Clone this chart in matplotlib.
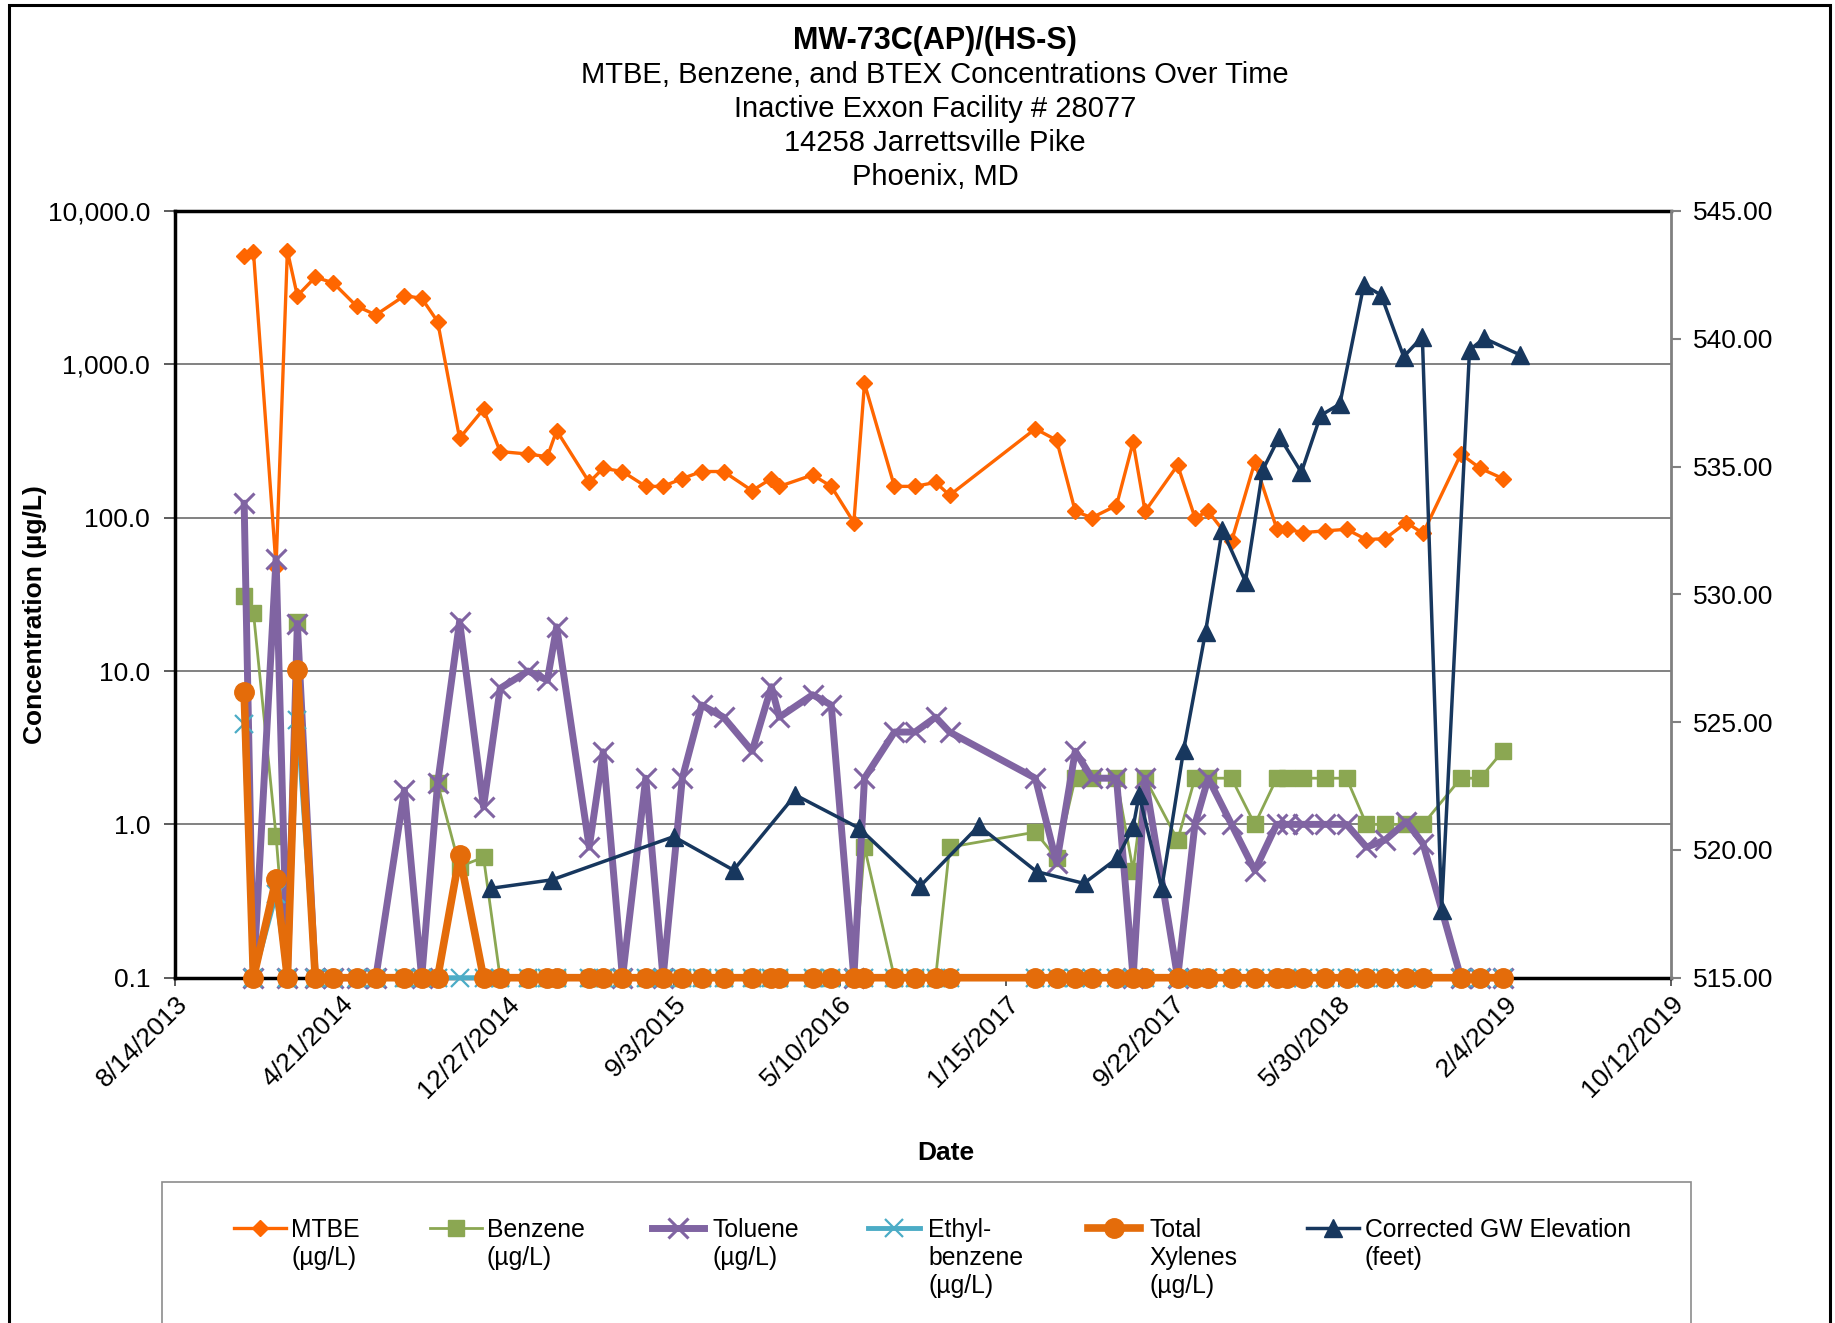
import matplotlib
matplotlib.use("Agg")
import matplotlib.pyplot as plt
import matplotlib.dates as mdates
from matplotlib.lines import Line2D
from matplotlib.patches import Rectangle
from matplotlib.ticker import FixedLocator, FuncFormatter, NullLocator
import datetime as dt

plt.rcParams['font.family'] = ['Liberation Sans', 'DejaVu Sans']

# ---------------- data ----------------
sample_dates = [
    "2013-11-26", "2013-12-10", "2014-01-13", "2014-01-30", "2014-02-14", "2014-03-13",
    "2014-04-09", "2014-05-14", "2014-06-12", "2014-07-25", "2014-08-20", "2014-09-13",
    "2014-10-16", "2014-11-21", "2014-12-16", "2015-01-27", "2015-02-25", "2015-03-11",
    "2015-04-29", "2015-05-20", "2015-06-18", "2015-07-23", "2015-08-18", "2015-09-16",
    "2015-10-15", "2015-11-17", "2015-12-30", "2016-01-28", "2016-02-09", "2016-03-30",
    "2016-04-27", "2016-05-31", "2016-06-16", "2016-07-31", "2016-08-31", "2016-10-01",
    "2016-10-22", "2017-02-28", "2017-04-01", "2017-04-29", "2017-05-24", "2017-06-30",
    "2017-07-25", "2017-08-12", "2017-09-30", "2017-10-26", "2017-11-15", "2017-12-20",
    "2018-01-24", "2018-02-26", "2018-03-13", "2018-04-07", "2018-05-10", "2018-06-11",
    "2018-07-11", "2018-08-08", "2018-09-09", "2018-10-04", "2018-11-30", "2018-12-29",
    "2019-02-01"]

mtbe = [5100, 5400, 48, 5500, 2800, 3700, 3400, 2400, 2100, 2800, 2700, 1900,
        330, 510, 270, 260, 250, 370,
        170, 210, 200, 160, 160, 180, 200, 200, 150, 180, 160, 190, 160,
        93, 750, 160, 160, 170, 140,
        380, 320, 110, 100, 120, 310, 110, 220, 100, 110, 70,
        230, 85, 84, 80, 82, 84, 72, 73, 93, 79, 260, 210, 180]

benzene = [31, 24, 0.84, 0.1, 21, 0.1, 0.1, 0.1, 0.1, 0.1, 0.1, 1.85,
           0.53, 0.61, 0.1, 0.1, 0.1, 0.1,
           0.1, 0.1, 0.1, 0.1, 0.1, 0.1, 0.1, 0.1, 0.1, 0.1, 0.1, 0.1, 0.1,
           0.1, 0.71, 0.1, 0.1, 0.1, 0.71,
           0.89, 0.6, 2, 2, 2, 0.5, 2, 0.79, 2, 2, 2,
           1, 2, 2, 2, 2, 2, 1, 1, 1, 1, 2, 2, 3]

toluene = [124, 0.1, 54, 0.1, 20.4, 0.1, 0.1, 0.1, 0.1, 1.67, 0.1, 1.85,
           21, 1.3, 7.7, 10, 8.7, 19.4,
           0.71, 2.97, 0.1, 2.0, 0.1, 2.0, 6.0, 5.0, 3.0, 7.9, 5.0, 7.0, 6.0,
           0.1, 2.0, 4.0, 4.0, 5.0, 4.0,
           2.0, 0.56, 3.0, 2, 2, 0.1, 2, 0.1, 1.0, 2, 1,
           0.5, 1, 1, 1, 1, 1, 0.71, 0.79, 1.04, 0.75, 0.1, 0.1, 0.1]

ethylbenzene = [4.5, 0.1, 0.35, 0.1, 4.8] + [0.1] * 56

xylenes = [7.3, 0.1, 0.44, 0.1, 10.1, 0.1, 0.1, 0.1, 0.1, 0.1, 0.1, 0.1,
           0.63] + [0.1] * 48

gw_dates = [
    "2014-12-03", "2015-03-04", "2015-09-03", "2015-12-02", "2016-03-04", "2016-06-08",
    "2016-09-08", "2016-12-05", "2017-03-02", "2017-05-12", "2017-07-01", "2017-07-25",
    "2017-08-03", "2017-09-06", "2017-10-09", "2017-11-11", "2017-12-06", "2018-01-10",
    "2018-02-05", "2018-03-02", "2018-04-04", "2018-05-03", "2018-06-01", "2018-07-07",
    "2018-08-02", "2018-09-05", "2018-10-03", "2018-11-01", "2018-12-13", "2019-01-04",
    "2019-02-27"]
gw_elev = [518.50, 518.83, 520.52, 519.21, 522.15, 520.85, 518.59, 520.94, 519.15,
           518.69, 519.67, 520.89, 522.15, 518.50, 523.91, 528.54, 532.52, 530.50,
           534.87, 536.17, 534.77, 537.00, 537.45, 542.11, 541.71, 539.30, 540.08,
           517.65, 539.56, 540.02, 539.37]

x_tick_dates = ["2013-08-14", "2014-04-21", "2014-12-27", "2015-09-03", "2016-05-10",
                "2017-01-15", "2017-09-22", "2018-05-30", "2019-02-04", "2019-10-12"]
y_ticks = [0.1, 1, 10, 100, 1000, 10000]
y2_ticks = [515, 520, 525, 530, 535, 540, 545]

title_lines = ["MW-73C(AP)/(HS-S)",
               "MTBE, Benzene, and BTEX Concentrations Over Time",
               "Inactive Exxon Facility # 28077",
               "14258 Jarrettsville Pike",
               "Phoenix, MD"]

legend_labels = ["MTBE\n(\u00b5g/L)", "Benzene\n(\u00b5g/L)", "Toluene\n(\u00b5g/L)",
                 "Ethyl-\nbenzene\n(\u00b5g/L)", "Total\nXylenes\n(\u00b5g/L)",
                 "Corrected GW Elevation\n(feet)"]

# ---------------- layout ----------------
W, H = 1835, 1323
fig = plt.figure(figsize=(W / 100, H / 100), dpi=100)


def fx(px):
    return px / W


def fy(py):
    return 1 - py / H


ax_l, ax_r, ax_t, ax_b = 175, 1671, 211, 977.7
ax = fig.add_axes([fx(ax_l), fy(ax_b), (ax_r - ax_l) / W, (ax_b - ax_t) / H])

to_d = lambda s: dt.datetime.strptime(s, "%Y-%m-%d")
sd = [to_d(s) for s in sample_dates]
gd = [to_d(s) for s in gw_dates]
xt = [to_d(s) for s in x_tick_dates]

FS = 19
LFS = 17.8

series_style = [
    dict(data=mtbe, color='#FF6600', lw=2.4, marker='D', ms=8.5, mew=1),
    dict(data=benzene, color='#8BA752', lw=2.0, marker='s', ms=12, mew=1),
    dict(data=toluene, color='#8064A2', lw=5.0, marker='x', ms=14, mew=2.2),
    dict(data=ethylbenzene, color='#4BACC6', lw=3.5, marker='x', ms=13, mew=1.6),
    dict(data=xylenes, color='#E46C0A', lw=5.5, marker='o', ms=14, mew=1),
]
lines = []
for i, st in enumerate(series_style):
    ln, = ax.plot(sd, st['data'], color=st['color'], lw=st['lw'], marker=st['marker'],
                  ms=st['ms'], mec=st['color'], mfc=st['color'], mew=st['mew'],
                  clip_on=False, zorder=3 + i * 0.1)
    lines.append(ln)

ax.set_yscale('log')
ax.set_ylim(0.1, 10000)
ax.set_xlim(xt[0], xt[-1])
ax.yaxis.set_major_locator(FixedLocator(y_ticks))
ax.yaxis.set_minor_locator(NullLocator())
ax.yaxis.set_major_formatter(FuncFormatter(lambda v, p: f"{v:,.1f}"))
ax.xaxis.set_major_locator(FixedLocator(mdates.date2num(xt)))
ax.xaxis.set_minor_locator(NullLocator())


def date_fmt(v, p):
    d = mdates.num2date(v)
    return f"{d.month}/{d.day}/{d.year}"


ax.xaxis.set_major_formatter(FuncFormatter(date_fmt))
ax.grid(axis='y', color='#5f5f5f', lw=1.1)
ax.set_axisbelow(True)
ax.tick_params(axis='y', which='major', direction='out', length=8, width=1.2,
               labelsize=FS, pad=10, color='#404040')
ax.tick_params(axis='x', which='major', direction='out', length=6, width=1.2,
               labelsize=FS, pad=4, color='#404040')
for lab in ax.get_xticklabels():
    lab.set_rotation(45)
    lab.set_ha('right')
    lab.set_rotation_mode('anchor')
for s in ['left', 'bottom', 'top']:
    ax.spines[s].set_color('black')
    ax.spines[s].set_linewidth(2.5)
ax.spines['right'].set_visible(False)

ax2 = ax.twinx()
gw_line, = ax2.plot(gd, gw_elev, color='#17375E', lw=2.5, marker='^', ms=13,
                    mec='#17375E', mfc='#17375E', clip_on=False, zorder=4)
ax2.set_ylim(515, 545)
ax2.yaxis.set_major_locator(FixedLocator(y2_ticks))
ax2.yaxis.set_major_formatter(FuncFormatter(lambda v, p: f"{v:.2f}"))
ax2.tick_params(axis='y', direction='out', length=7, width=1.5, color='#808080',
                labelsize=FS, pad=9)
for s in ['left', 'bottom', 'top']:
    ax2.spines[s].set_visible(False)
ax2.spines['right'].set_color('#808080')
ax2.spines['right'].set_linewidth(2)
lines.append(gw_line)

# ---------------- titles ----------------
title_y = [40.8, 74.8, 108.7, 142.6, 176.6]
for k, (t, yy) in enumerate(zip(title_lines, title_y)):
    fig.text(fx(935), fy(yy), t, ha='center', va='center',
             fontsize=22 if k == 0 else 21, fontweight='bold' if k == 0 else 'normal')

fig.text(fx(945.6), fy(1153.5), "Date", ha='center', va='center', fontsize=FS,
         fontweight='bold')
fig.text(fx(35), fy(615), "Concentration (\u00b5g/L)", ha='center', va='center',
         fontsize=FS, fontweight='bold', rotation=90)

# ---------------- legend ----------------
fig.add_artist(Rectangle((fx(161.5), -0.02), (1691 - 161.5) / W, (H - 1182) / H + 0.02,
                         transform=fig.transFigure, fill=False, ec='#8c8c8c', lw=1.2))
handle_x0 = [234, 429.5, 652, 868, 1088, 1307]
handle_len = 52
text_x = [291.4, 486.8, 712.7, 928, 1149.2, 1364.6]
leg_y = 1227.6
line_gap = 28
for ln, hx, tx, lab in zip(lines, handle_x0, text_x, legend_labels):
    h = Line2D([fx(hx), fx(hx + handle_len / 2), fx(hx + handle_len)],
               [fy(leg_y)] * 3, transform=fig.transFigure,
               color=ln.get_color(), lw=ln.get_linewidth(), marker=ln.get_marker(),
               ms=ln.get_markersize(), mec=ln.get_markeredgecolor(),
               mfc=ln.get_markerfacecolor(), mew=ln.get_markeredgewidth(),
               markevery=[1])
    fig.add_artist(h)
    for j, part in enumerate(lab.split("\n")):
        fig.text(fx(tx), fy(leg_y + 9 + j * line_gap), part, ha='left', va='baseline',
                 fontsize=LFS)

# outer border
fig.add_artist(Rectangle((fx(9), -0.02), (1830 - 9) / W, (H - 5) / H + 0.02,
                         transform=fig.transFigure, fill=False, ec='black', lw=2.2))

fig.savefig("out.png", dpi=100)
